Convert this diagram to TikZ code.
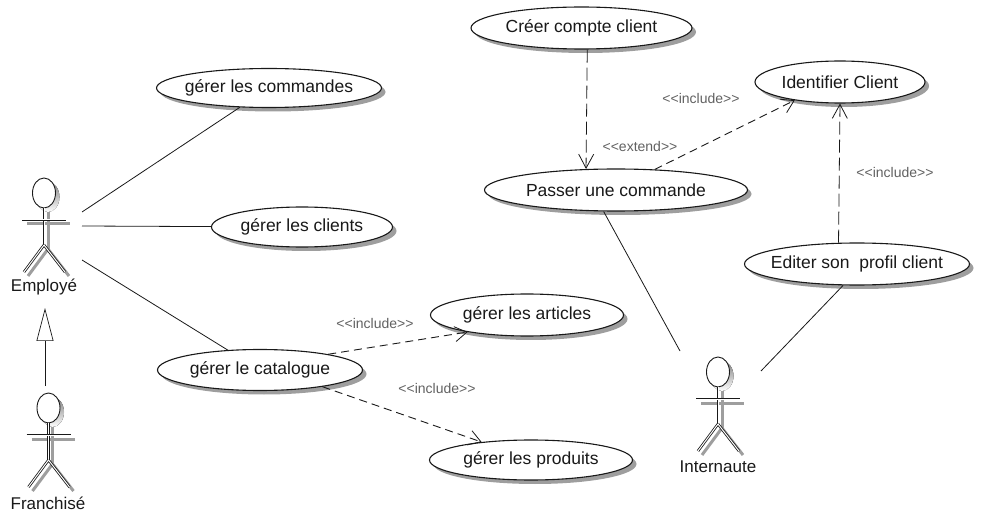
\documentclass[tikz,border=0pt]{standalone}
\usepackage{fontspec}
\setmainfont{Liberation Sans}
\usetikzlibrary{shapes.geometric,shadows,arrows.meta}
\definecolor{ink}{gray}{0.1}
\definecolor{shade}{gray}{0.62}
\definecolor{lbl}{gray}{0.38}
\tikzset{
  x=1pt,y=-1pt,
  usecase/.style={ellipse,draw=ink,fill=white,line width=1.1pt,inner sep=0pt,
    font=\fontsize{17.5}{20}\selectfont,text=ink,
    general shadow={fill=shade,shadow xshift=4pt,shadow yshift=-4pt,opacity=1}},
  plainlink/.style={draw=ink,line width=0.8pt},
  longdash/.style={draw=ink,line width=0.8pt,dash pattern=on 13pt off 5pt,-{Straight Barb[length=14pt,width=15pt,line width=0.8pt]}},
  shortdash/.style={draw=ink,line width=0.9pt,dash pattern=on 8pt off 5pt,-{Straight Barb[length=12pt,width=15pt,line width=0.8pt]}},
  genlink/.style={draw=ink,line width=0.7pt,-{Triangle[open,length=33pt,width=17pt,fill=white]}},
  stereo/.style={font=\fontsize{14}{16}\selectfont,text=lbl,inner sep=0pt},
  actorname/.style={font=\fontsize{17}{20}\selectfont,text=ink,inner sep=0pt},
  limb/.style={draw=ink,line width=0.8pt,double=white,double distance=1pt},
  limbshadow/.style={draw=shade,line width=3pt},
  actorfig/.pic={
    \fill[shade] (4,4) ellipse [x radius=11.5,y radius=15];
    \draw[limbshadow] (-17,31)--(26,31);
    \draw[limbshadow] (4,19)--(4,56);
    \draw[limbshadow] (4,56)--(-16,83) (4,56)--(25,83);
    \draw[ink,line width=0.9pt,fill=white] (0,0) ellipse [x radius=11.5,y radius=15];
    \draw[limb] (0,15)--(0,52);
    \draw[limb] (0,52)--(-20,79) (0,52)--(21,79);
    \draw[limb] (-22,27)--(22,27);
  }
}
\begin{document}
\begin{tikzpicture}
\useasboundingbox (0,0) rectangle (989,513);
% actors
\pic at (44,193) {actorfig};
\pic at (48.5,408) {actorfig};
\pic at (718,372) {actorfig};
\node[actorname] (employe) at (44,287) {Employé};
\node[actorname] (franchise) at (48,503) {Franchisé};
\node[actorname] (internaute) at (718,467) {Internaute};
% free ends at actors
\coordinate (e1) at (82,212);
\coordinate (e2) at (82,226);
\coordinate (e3) at (82,260);
\coordinate (i1) at (680,351);
\coordinate (i2) at (761,371);
\coordinate (gs) at (45,386);
\coordinate (ge) at (45,308);
% use cases
\node[usecase,minimum width=225pt,minimum height=39pt] (cmd) at (269,88) {\makebox[0pt]{gérer les commandes}};
\node[usecase,minimum width=181pt,minimum height=40pt] (cli) at (302,227) {\makebox[0pt]{gérer les clients}};
\node[usecase,minimum width=205pt,minimum height=41pt] (cat) at (260,370) {\makebox[0pt]{gérer le catalogue}};
\node[usecase,minimum width=193pt,minimum height=42pt] (art) at (527,315) {\makebox[0pt]{gérer les articles}};
\node[usecase,minimum width=203pt,minimum height=40pt] (pro) at (531,460) {\makebox[0pt]{gérer les produits}};
\node[usecase,minimum width=221pt,minimum height=42pt] (cre) at (581.5,28) {\makebox[0pt]{Créer compte client}};
\node[usecase,minimum width=170pt,minimum height=42pt] (ide) at (840,82) {\makebox[0pt]{Identifier Client}};
\node[usecase,minimum width=263pt,minimum height=42pt] (pas) at (616,190) {\makebox[0pt]{Passer une commande}};
\node[usecase,minimum width=225pt,minimum height=42pt] (edi) at (857,264) {\makebox[0pt]{Editer son\ \ profil client}};
% connectors
\draw[plainlink] (e1) -- (cmd);
\draw[plainlink] (e2) -- (cli);
\draw[plainlink] (e3) -- (cat);
\draw[plainlink] (pas.240) -- (i1);
\draw[plainlink] (edi.237) -- (i2);
\draw[genlink] (gs) -- (ge);
\draw[longdash] (cre.-75) -- (pas.145);
\draw[longdash] (edi.131) -- (ide.south);
\draw[shortdash] (pas.28) -- (ide.202);
\draw[shortdash] (cat.13) -- (art.196);
\draw[shortdash] (cat.-15) -- (pro.160);
% stereotypes
\node[stereo] (s1) at (701,98) {<{}<include>{}>};
\node[stereo] (s2) at (640,146) {<{}<extend>{}>};
\node[stereo] (s3) at (895,172) {<{}<include>{}>};
\node[stereo] (s4) at (375,323) {<{}<include>{}>};
\node[stereo] (s5) at (437,388) {<{}<include>{}>};
\end{tikzpicture}
\end{document}
